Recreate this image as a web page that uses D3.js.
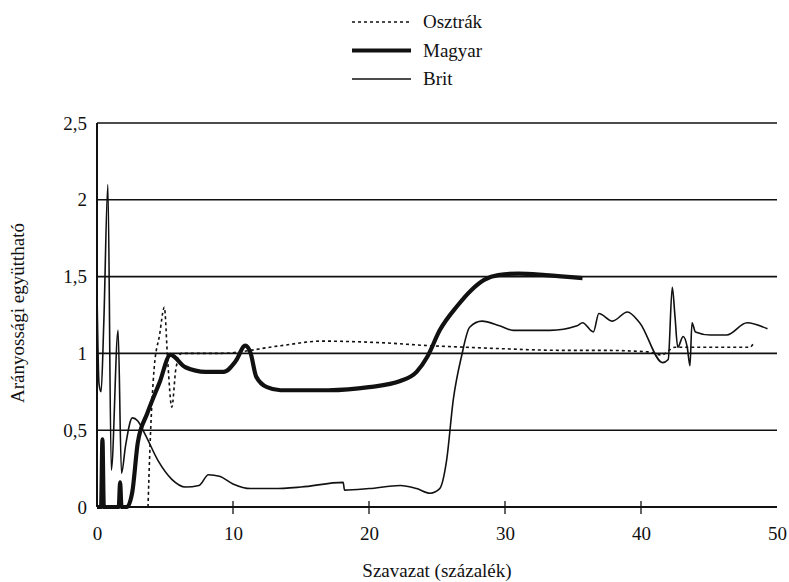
<!DOCTYPE html>
<html>
<head>
<meta charset="utf-8">
<script src="https://cdn.jsdelivr.net/npm/d3@7"></script>
<style>
  body { margin: 0; background: #fff; }
  svg text { font-family: "Liberation Serif", "DejaVu Serif", serif !important; fill: #111; }
</style>
</head>
<body>
<div id="chart"></div>
<script>
// Data
const seriesNames = ["Osztrák", "Magyar", "Brit"];

const osztrak = [
  [3.75, 0], [3.9, 0.4], [4.2, 0.9], [4.6, 1.12], [4.95, 1.3], [5.2, 0.95],
  [5.5, 0.65], [5.8, 0.9], [6.2, 1.0], [9, 1.0], [13.5, 1.05], [16.5, 1.08],
  [20.8, 1.07], [24.5, 1.05], [27.2, 1.04], [30, 1.03], [34, 1.02], [37, 1.02],
  [40.5, 1.01], [41.5, 0.99], [42.5, 1.04], [44.3, 1.04], [46, 1.04],
  [48, 1.04], [48.3, 1.07]
];

const magyar = [
  [0, 0], [0.3, 0], [0.4, 0.44], [0.5, 0], [1.6, 0], [1.7, 0.16], [1.8, 0],
  [2.2, 0], [2.6, 0.1], [3.0, 0.42], [3.7, 0.61], [4.6, 0.81], [5.4, 0.99],
  [6.5, 0.91], [8, 0.88], [9.3, 0.88], [10.2, 0.95], [10.9, 1.05], [11.3, 1.0],
  [11.7, 0.85], [12.5, 0.78], [13.5, 0.76], [17, 0.76], [20, 0.78],
  [22.3, 0.82], [23.5, 0.88], [24.3, 0.98], [25.2, 1.15], [26.5, 1.31],
  [27.5, 1.41], [28.5, 1.48], [29.5, 1.51], [31, 1.52], [33, 1.51], [35.7, 1.49]
];

const brit = [
  [0, 1.4], [0.15, 0.8], [0.3, 0.75], [0.5, 1.2], [0.8, 2.1], [1.05, 0.24],
  [1.55, 1.15], [1.8, 0.22], [2.1, 0.4], [2.6, 0.58], [3.0, 0.56], [3.5, 0.48],
  [4.5, 0.3], [5.5, 0.18], [6.5, 0.13], [7.5, 0.14], [8.2, 0.21], [9, 0.2],
  [10, 0.15], [11.3, 0.12], [13, 0.12], [15, 0.13], [18.1, 0.16], [18.2, 0.11],
  [20, 0.12], [22.3, 0.14], [23.5, 0.12], [24.5, 0.09], [25.2, 0.12],
  [25.7, 0.3], [26.2, 0.7], [26.8, 0.98], [27.4, 1.17], [28.3, 1.21],
  [29.6, 1.18], [30.6, 1.15], [33.3, 1.15], [35.3, 1.18], [35.7, 1.2],
  [36.5, 1.14], [36.9, 1.26], [37.9, 1.21], [39, 1.27], [39.9, 1.2],
  [41.6, 0.94], [42.0, 0.96], [42.3, 1.43], [42.5, 1.24], [42.7, 1.04],
  [43.1, 1.11], [43.4, 1.04], [43.6, 0.92], [43.75, 1.2], [44, 1.14],
  [45.1, 1.12], [46.3, 1.12], [47.8, 1.2], [49.3, 1.16]
];

const xTicks = [0, 10, 20, 30, 40, 50];
const yTicks = [0, 0.5, 1, 1.5, 2, 2.5];
const yTickLabels = ["0", "0,5", "1", "1,5", "2", "2,5"];

// Dimensions
let dimensions = {
  width: 789,
  height: 582,
  margin: { top: 123, right: 12, bottom: 75, left: 97 }
}
dimensions.ctnrWidth = dimensions.width - dimensions.margin.left - dimensions.margin.right
dimensions.ctnrHeight = dimensions.height - dimensions.margin.top - dimensions.margin.bottom

const fontSize = "19px"

const svg = d3.select("#chart")
  .append("svg")
  .attr("width", dimensions.width)
  .attr("height", dimensions.height)
  .style("font-family", "'Liberation Serif', serif")

const ctnr = svg.append("g")
  .attr("transform", `translate(${dimensions.margin.left}, ${dimensions.margin.top})`)

const xScale = d3.scaleLinear()
  .domain([0, 50])
  .range([0, 680])

const yScale = d3.scaleLinear()
  .domain([0, 2.5])
  .range([dimensions.ctnrHeight, 0])

// Horizontal rules
ctnr.selectAll(".grid")
  .data(yTicks)
  .join("line")
  .attr("class", "grid")
  .attr("x1", 0)
  .attr("x2", xScale(50))
  .attr("y1", d => yScale(d))
  .attr("y2", d => yScale(d))
  .attr("stroke", "#111")
  .attr("stroke-width", d => d === 0 ? 2.2 : 1.6)

// Left frame
ctnr.append("line")
  .attr("x1", 0).attr("x2", 0)
  .attr("y1", yScale(2.5)).attr("y2", yScale(0))
  .attr("stroke", "#111")
  .attr("stroke-width", 2)

// Axes
const xAxis = d3.axisBottom(xScale)
  .tickValues(xTicks)
  .tickSize(0)
  .tickPadding(20)
const xAxisGroup = ctnr.append("g")
  .attr("transform", `translate(0, ${dimensions.ctnrHeight})`)
  .call(xAxis)
  .attr("font-family", null)
  .attr("font-size", null)
xAxisGroup.select(".domain").remove()
xAxisGroup.selectAll("text")
  .style("font-size", fontSize)

// small tick marks crossing the baseline
ctnr.selectAll(".xtick")
  .data(xTicks.filter(d => d > 0 && d < 50))
  .join("line")
  .attr("class", "xtick")
  .attr("x1", d => xScale(d)).attr("x2", d => xScale(d))
  .attr("y1", dimensions.ctnrHeight - 6)
  .attr("y2", dimensions.ctnrHeight + 7)
  .attr("stroke", "#111")
  .attr("stroke-width", 1.3)

const yAxis = d3.axisLeft(yScale)
  .tickValues(yTicks)
  .tickFormat((d, i) => yTickLabels[i])
  .tickSize(0)
  .tickPadding(10)
const yAxisGroup = ctnr.append("g")
  .call(yAxis)
  .attr("font-family", null)
  .attr("font-size", null)
yAxisGroup.select(".domain").remove()
yAxisGroup.selectAll("text")
  .style("font-size", fontSize)

// Axis titles
svg.append("text")
  .attr("x", 437)
  .attr("y", 577)
  .style("text-anchor", "middle")
  .style("font-size", fontSize)
  .text("Szavazat (százalék)")

svg.append("text")
  .attr("transform", "translate(24, 313) rotate(-90)")
  .style("text-anchor", "middle")
  .style("font-size", fontSize)
  .text("Arányossági együttható")

// Lines
const line = d3.line()
  .x(d => xScale(d[0]))
  .y(d => yScale(d[1]))
  .curve(d3.curveMonotoneX)

const styles = {
  "Osztrák": { width: 1.6, dash: "3,3" },
  "Magyar": { width: 4.2, dash: null },
  "Brit": { width: 1.6, dash: null }
}
const seriesData = [osztrak, magyar, brit]

seriesNames.forEach((name, i) => {
  ctnr.append("path")
    .datum(seriesData[i])
    .attr("d", line)
    .attr("fill", "none")
    .attr("stroke", "#111")
    .attr("stroke-width", styles[name].width)
    .attr("stroke-dasharray", styles[name].dash)
    .attr("stroke-linejoin", "round")
})

// Legend
const legend = svg.append("g").attr("transform", "translate(352, 22)")
seriesNames.forEach((name, i) => {
  const row = legend.append("g").attr("transform", `translate(0, ${i * 28.5})`)
  row.append("line")
    .attr("x1", 0).attr("x2", 59)
    .attr("y1", 0).attr("y2", 0)
    .attr("stroke", "#111")
    .attr("stroke-width", styles[name].width)
    .attr("stroke-dasharray", styles[name].dash)
  row.append("text")
    .attr("x", 71)
    .attr("y", 6)
    .style("font-size", fontSize)
    .text(name)
})
</script>
</body>
</html>
